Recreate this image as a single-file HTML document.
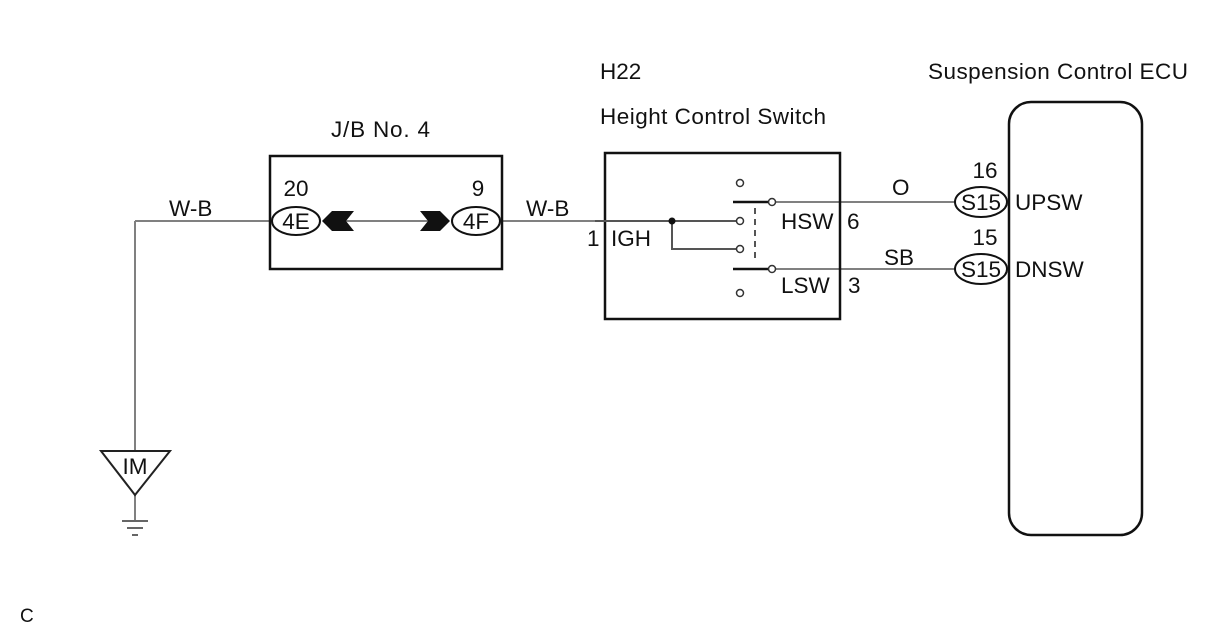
<!DOCTYPE html>
<html><head><meta charset="utf-8"><style>
html,body{margin:0;padding:0;background:#fff;width:1212px;height:634px;overflow:hidden}
text{font-family:"Liberation Sans",Arial,sans-serif;font-size:22.5px;fill:#111}
</style></head><body>
<svg width="1212" height="634" viewBox="0 0 1212 634" xmlns="http://www.w3.org/2000/svg">
<g stroke="#808080" stroke-width="2" fill="none">
<line x1="135" y1="221" x2="135" y2="452"/>
<line x1="135" y1="221" x2="272" y2="221"/>
<line x1="345" y1="221" x2="430" y2="221"/>
<line x1="502" y1="221" x2="604" y2="221"/>
<line x1="135" y1="495" x2="135" y2="520"/>
<line x1="776" y1="202" x2="955" y2="202"/>
<line x1="776" y1="269" x2="955" y2="269"/>
</g>
<rect x="270" y="156" width="232" height="113" fill="none" stroke="#111" stroke-width="2.5"/>
<ellipse cx="296" cy="221" rx="24" ry="14" fill="#fff" stroke="#111" stroke-width="2"/>
<ellipse cx="476" cy="221" rx="24" ry="14" fill="#fff" stroke="#111" stroke-width="2"/>
<polygon points="322,221 332,211 354,211 346,221 354,231 332,231" fill="#111"/>
<polygon points="450,221 440,211 420,211 428,221 420,231 440,231" fill="#111"/>
<text x="296" y="229" text-anchor="middle">4E</text>
<text x="476" y="229" text-anchor="middle">4F</text>
<text x="296" y="196" text-anchor="middle">20</text>
<text x="478" y="196" text-anchor="middle">9</text>
<text x="169" y="216">W-B</text>
<text x="526" y="216">W-B</text>
<text x="331" y="137" textLength="99">J/B No. 4</text>
<rect x="605" y="153" width="235" height="166" fill="none" stroke="#111" stroke-width="2.5"/>
<g stroke="#555" stroke-width="2" fill="none">
<line x1="595" y1="221" x2="736" y2="221"/>
<polyline points="672,221 672,249 736,249"/>
<line x1="733" y1="202" x2="768" y2="202" stroke="#111" stroke-width="2.5"/>
<line x1="733" y1="269" x2="768" y2="269" stroke="#111" stroke-width="2.5"/>
<line x1="755" y1="208" x2="755" y2="262" stroke-dasharray="6,5"/>
</g>
<g fill="#fff" stroke="#333" stroke-width="1.5">
<circle cx="740" cy="183" r="3.5"/><circle cx="740" cy="221" r="3.5"/>
<circle cx="740" cy="249" r="3.5"/><circle cx="740" cy="293" r="3.5"/>
<circle cx="772" cy="202" r="3.5"/><circle cx="772" cy="269" r="3.5"/>
</g>
<circle cx="672" cy="221" r="3.5" fill="#111"/>
<text x="587" y="246">1</text>
<text x="611" y="246">IGH</text>
<text x="781" y="229">HSW</text>
<text x="847" y="229">6</text>
<text x="781" y="293">LSW</text>
<text x="848" y="293">3</text>
<text x="892" y="195">O</text>
<text x="884" y="265">SB</text>
<text x="600" y="79">H22</text>
<text x="600" y="124" textLength="226">Height Control Switch</text>
<text x="928" y="79" textLength="260">Suspension Control ECU</text>
<rect x="1009" y="102" width="133" height="433" rx="22" fill="none" stroke="#111" stroke-width="2.5"/>
<ellipse cx="981" cy="202" rx="26" ry="15" fill="#fff" stroke="#111" stroke-width="2"/>
<ellipse cx="981" cy="269" rx="26" ry="15" fill="#fff" stroke="#111" stroke-width="2"/>
<text x="981" y="210" text-anchor="middle">S15</text>
<text x="981" y="277" text-anchor="middle">S15</text>
<text x="985" y="178" text-anchor="middle">16</text>
<text x="985" y="245" text-anchor="middle">15</text>
<text x="1015" y="210">UPSW</text>
<text x="1015" y="277">DNSW</text>
<polygon points="101,451 170,451 135,495" fill="#fff" stroke="#222" stroke-width="2"/>
<text x="135" y="474" text-anchor="middle">IM</text>
<g stroke="#333" stroke-width="1.5">
<line x1="122" y1="521" x2="148" y2="521"/>
<line x1="127" y1="528" x2="143" y2="528"/>
<line x1="132" y1="535" x2="138" y2="535"/>
</g>
<text x="20" y="622" style="font-size:19px">C</text>
</svg>
</body></html>
